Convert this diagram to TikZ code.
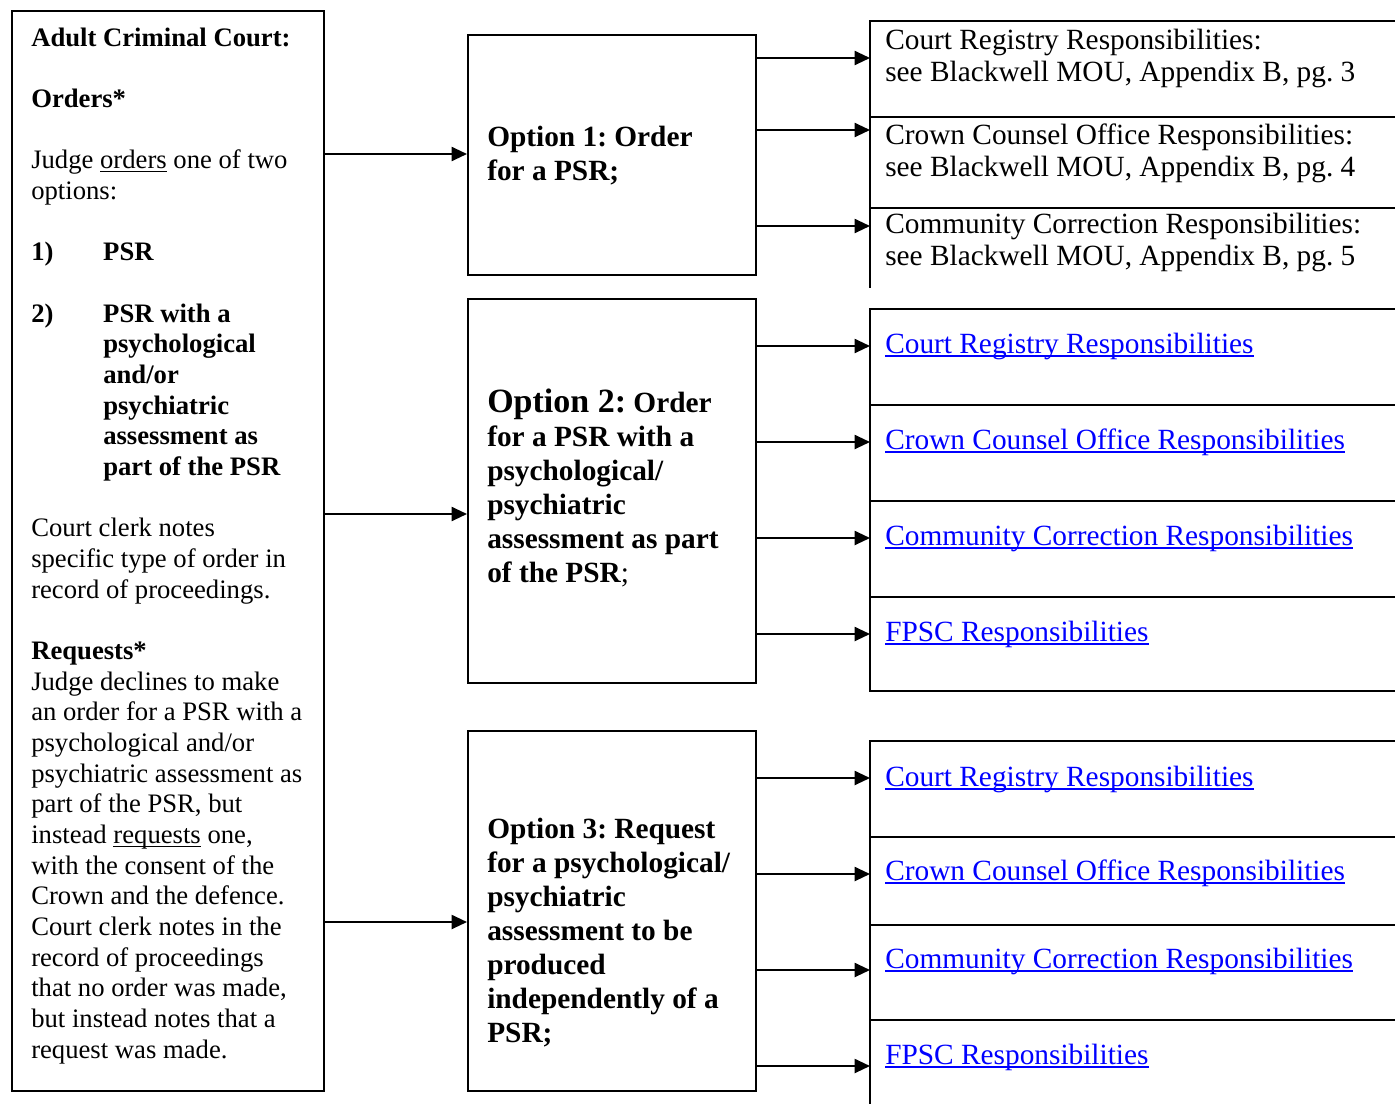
\documentclass[tikz,border=0pt]{standalone}
\usepackage{fontspec}
\setmainfont{Liberation Serif}
\usetikzlibrary{arrows.meta}
\definecolor{linkblue}{RGB}{0,0,255}
\newcommand\myul[1]{\setbox0=\hbox{#1}\rlap{\rule[-2.6pt]{\wd0}{1.1pt}}\box0\relax}
\newcommand\fl{\rule{0pt}{20pt}}
\newcommand\numb[1]{\makebox[54pt][l]{#1}}
\frenchspacing
\begin{document}
\begin{tikzpicture}[x=0.75pt,y=-0.75pt,
  frame/.style={draw, line width=1.5pt, inner sep=0pt, anchor=north west},
  optbox/.style={frame, minimum width=216pt},
  lefttext/.style={anchor=north west, inner sep=0pt, align=left, font=\fontsize{20}{23}\selectfont\frenchspacing},
  opttext/.style={anchor=north west, inner sep=0pt, align=left, font=\fontsize{22}{25.5}\selectfont\bfseries\frenchspacing},
  resptext/.style={anchor=north west, inner sep=0pt, align=left, font=\fontsize{22}{24.4}\selectfont\frenchspacing},
  link/.style={resptext, text=linkblue},
  arr/.style={line width=1.5pt, -{Triangle[length=11.5pt,width=10.5pt]}},
  grid/.style={line width=1.6pt}]
\useasboundingbox (0,0) rectangle (1395,1103);
\clip (0,0) rectangle (1395,1103);

% boxes
\node[frame, minimum width=234pt, minimum height=810pt] (court) at (11,10) {};
\node[optbox, minimum height=180pt] (opt1) at (467,34) {};
\node[optbox, minimum height=288pt] (opt2) at (467,298) {};
\node[optbox, minimum height=270pt] (opt3) at (467,730) {};

% responsibility tables
\coordinate (g1) at (870,21);
\coordinate (g2) at (870,309);
\coordinate (g3) at (870,741);
\draw[grid] (1400,21) -- (g1) -- (870,288);
\draw[grid] (870,117) -- (1400,117) (870,208) -- (1400,208);
\draw[grid] (g2) rectangle (1400,691);
\draw[grid] (870,405) -- (1400,405) (870,501) -- (1400,501) (870,597) -- (1400,597);
\draw[grid] (1400,741) -- (g3) -- (870,1110);
\draw[grid] (870,837) -- (1400,837) (870,925) -- (1400,925) (870,1020) -- (1400,1020);

% left text
\node[lefttext] (courttext) at (31,19.33) {\fl\textbf{Adult Criminal Court:}\\[23pt]
\textbf{Orders*}\\[23pt]
Judge \myul{orders} one of two\\
options:\\[23pt]
\textbf{\numb{1)}PSR}\\[23pt]
\textbf{\numb{2)}PSR with a}\\
\textbf{\hspace*{54pt}psychological}\\
\textbf{\hspace*{54pt}and/or}\\
\textbf{\hspace*{54pt}psychiatric}\\
\textbf{\hspace*{54pt}assessment as}\\
\textbf{\hspace*{54pt}part of the PSR}\\[23pt]
Court clerk notes\\
specific type of order in\\
record of proceedings.\\[23pt]
\textbf{Requests*}\\
Judge declines to make\\
an order for a PSR with a\\
psychological and/or\\
psychiatric assessment as\\
part of the PSR, but\\
instead \myul{requests} one,\\
with the consent of the\\
Crown and the defence.\\
Court clerk notes in the\\
record of proceedings\\
that no order was made,\\
but instead notes that a\\
request was made.};

% option texts
\node[opttext] (opt1text) at (487,119.3) {\fl Option 1: Order\\for a PSR;};
\node[opttext] (opt2text) at (487,385.3) {\fl{\fontsize{25.5}{25.5}\selectfont Option 2:} Order\\for a PSR with a\\psychological/\\psychiatric\\assessment as part\\of the PSR{\mdseries;}};
\node[opttext] (opt3text) at (487,811.3) {\fl Option 3: Request\\for a psychological/\\psychiatric\\assessment to be\\produced\\independently of a\\PSR;};

% responsibility texts
\node[resptext] (r1a) at (885,22.3) {\fl Court Registry Responsibilities:\\see Blackwell MOU, Appendix B, pg. 3};
\node[resptext] (r1b) at (885,117.3) {\fl Crown Counsel Office Responsibilities:\\see Blackwell MOU, Appendix B, pg. 4};
\node[resptext] (r1c) at (885,206.3) {\fl Community Correction Responsibilities:\\see Blackwell MOU, Appendix B, pg. 5};

\node[link] (r2a) at (885,326.3) {\fl\myul{Court Registry Responsibilities}};
\node[link] (r2b) at (885,422.3) {\fl\myul{Crown Counsel Office Responsibilities}};
\node[link] (r2c) at (885,518.3) {\fl\myul{Community Correction Responsibilities}};
\node[link] (r2d) at (885,614.3) {\fl\myul{FPSC Responsibilities}};

\node[link] (r3a) at (885,759.3) {\fl\myul{Court Registry Responsibilities}};
\node[link] (r3b) at (885,853.3) {\fl\myul{Crown Counsel Office Responsibilities}};
\node[link] (r3c) at (885,941.3) {\fl\myul{Community Correction Responsibilities}};
\node[link] (r3d) at (885,1037.3) {\fl\myul{FPSC Responsibilities}};

% arrows from court to options
\draw[arr] (court.east |- 0,154) -- (opt1.west |- 0,154);
\draw[arr] (court.east |- 0,514) -- (opt2.west |- 0,514);
\draw[arr] (court.east |- 0,922) -- (opt3.west |- 0,922);

% arrows from options to responsibilities
\draw[arr] (opt1.east |- 0,58) -- (g1 |- 0,58);
\draw[arr] (opt1.east |- 0,130) -- (g1 |- 0,130);
\draw[arr] (opt1.east |- 0,226) -- (g1 |- 0,226);

\draw[arr] (opt2.east |- 0,346) -- (g2 |- 0,346);
\draw[arr] (opt2.east |- 0,442) -- (g2 |- 0,442);
\draw[arr] (opt2.east |- 0,538) -- (g2 |- 0,538);
\draw[arr] (opt2.east |- 0,634) -- (g2 |- 0,634);

\draw[arr] (opt3.east |- 0,778) -- (g3 |- 0,778);
\draw[arr] (opt3.east |- 0,874) -- (g3 |- 0,874);
\draw[arr] (opt3.east |- 0,970) -- (g3 |- 0,970);
\draw[arr] (opt3.east |- 0,1066) -- (g3 |- 0,1066);
\end{tikzpicture}
\end{document}
